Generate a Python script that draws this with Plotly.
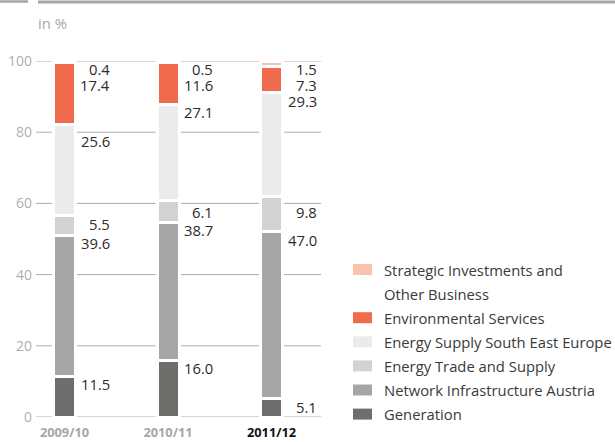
import plotly.graph_objects as go

# ---- data ----
years = ["2009/10", "2010/11", "2011/12"]
series_names = [
    "Generation",
    "Network Infrastructure Austria",
    "Energy Trade and Supply",
    "Energy Supply South East Europe",
    "Environmental Services",
    "Strategic Investments and Other Business",
]
generation = [11.5, 16.0, 5.1]
network_austria = [39.6, 38.7, 47.0]
energy_trade = [5.5, 6.1, 9.8]
energy_see = [25.6, 27.1, 29.3]
environmental = [17.4, 11.6, 7.3]
strategic = [0.4, 0.5, 1.5]
y_ticks = [0, 20, 40, 60, 80, 100]

series_values = [generation, network_austria, energy_trade, energy_see, environmental, strategic]
colors = ["#6e6e6d", "#a6a6a6", "#d1d2d1", "#ebebeb", "#ef6b4c", "#f8c3ad"]
legend_lines = {
    "Strategic Investments and Other Business": ["Strategic Investments and", "Other Business"],
}

# ---- layout geometry (pixels) ----
W, H = 615, 442
ML, MR, MT, MB = 36, 294, 61, 25
PW = W - ML - MR
PH = H - MT - MB
X_RANGE = [-0.2754, 2.478]
PX_PER_X = PW / (X_RANGE[1] - X_RANGE[0])
PX_PER_Y = PH / 100.0
FONT = "Open Sans"

def px_x(px):
    return (px - ML) / PW

def px_y(py):
    return (H - MB - py) / PH

def ypx(v):
    return MT + (100 - v) * PX_PER_Y

xs = list(range(len(years)))

fig = go.Figure()
for name, vals, col in zip(series_names, series_values, colors):
    fig.add_trace(go.Bar(
        x=xs, y=vals, name=name, width=22 / PX_PER_X,
        marker=dict(color=col, line=dict(color="white", width=3)),
        showlegend=False, hoverinfo="skip",
    ))

shapes = []
# gridlines
for t in y_ticks:
    shapes.append(dict(type="line", xref="paper", yref="y", x0=0, x1=1, y0=t, y1=t,
                       line=dict(color="#ababab", width=1), layer="below"))
# white gaps around bars
gap = 12.5 / PX_PER_X
for i in xs:
    shapes.append(dict(type="rect", xref="x", yref="y", x0=i - gap, x1=i + gap, y0=-3, y1=103,
                       fillcolor="white", line=dict(width=0), layer="below"))
# top rule
shapes.append(dict(type="line", xref="paper", yref="paper", x0=px_x(0), x1=px_x(28),
                   y0=px_y(1.5), y1=px_y(1.5), line=dict(color="#a5a5a5", width=2.5)))
shapes.append(dict(type="line", xref="paper", yref="paper", x0=px_x(38), x1=px_x(615),
                   y0=px_y(2), y1=px_y(2), line=dict(color="#a5a5a5", width=3)))

annotations = []
annotations.append(dict(text="in %", xref="paper", yref="paper", x=px_x(36), y=px_y(23),
                        xanchor="left", yanchor="middle", showarrow=False,
                        font=dict(family=FONT, size=14.8, color="#a8a8a8")))

# value labels
label_dx = 46 / PX_PER_X
for i in xs:
    prev = None
    top = 100.0
    for k in range(len(series_names) - 1, -1, -1):
        v = series_values[k][i]
        py = ypx(top) + 8
        for t in y_ticks:
            if abs(py - ypx(t)) < 7:
                py = ypx(t) + 8.5
        if prev is not None:
            py = max(py, prev + 16)
        prev = py
        annotations.append(dict(text=f"{v:.1f}", xref="x", yref="paper", x=i + label_dx, y=px_y(py),
                                xanchor="right", yanchor="middle", showarrow=False, borderpad=0,
                                font=dict(family=FONT, size=14.8, color="#2b2b2b")))
        top -= v

# custom legend
row = 0
for k in range(len(series_names) - 1, -1, -1):
    name = series_names[k]
    lines = legend_lines.get(name, [name])
    cy = 269.5 + row * 24.1
    shapes.append(dict(type="rect", xref="paper", yref="paper", x0=px_x(353), x1=px_x(372),
                       y0=px_y(cy + 5.5), y1=px_y(cy - 5.5), fillcolor=colors[k], line=dict(width=0)))
    for ln in lines:
        cy = 269.5 + row * 24.1
        annotations.append(dict(text=ln, xref="paper", yref="paper", x=px_x(382), y=px_y(cy),
                                xanchor="left", yanchor="middle", showarrow=False,
                                font=dict(family=FONT, size=14.8, color="#3a3a3a")))
        row += 1

tick_colors = ["#a6a6a6", "#a6a6a6", "#111111"]
ticktext = [f"<b><span style='color:{c}'>{y}</span></b>" for y, c in zip(years, tick_colors)]

fig.update_layout(
    barmode="stack", width=W, height=H, autosize=False,
    margin=dict(l=ML, r=MR, t=MT, b=MB, pad=0, autoexpand=False),
    paper_bgcolor="white", plot_bgcolor="white",
    shapes=shapes, annotations=annotations,
    xaxis=dict(range=X_RANGE, tickvals=xs, ticktext=ticktext, showgrid=False, zeroline=False,
               showline=False, ticks="", ticklabelstandoff=6, automargin=False,
               tickfont=dict(family=FONT, size=12.8, color="#a6a6a6"), fixedrange=True),
    yaxis=dict(range=[0, 100], tickvals=y_ticks, showgrid=False, zeroline=False, showline=False,
               ticks="", ticklabelstandoff=3, automargin=False,
               tickfont=dict(family=FONT, size=14, color="#b0b0b0"), fixedrange=True),
    showlegend=False,
)

fig.write_html(
    "out.html", config={"displayModeBar": False},
    post_script="document.body.style.margin='0';document.body.style.overflow='hidden';",
)
